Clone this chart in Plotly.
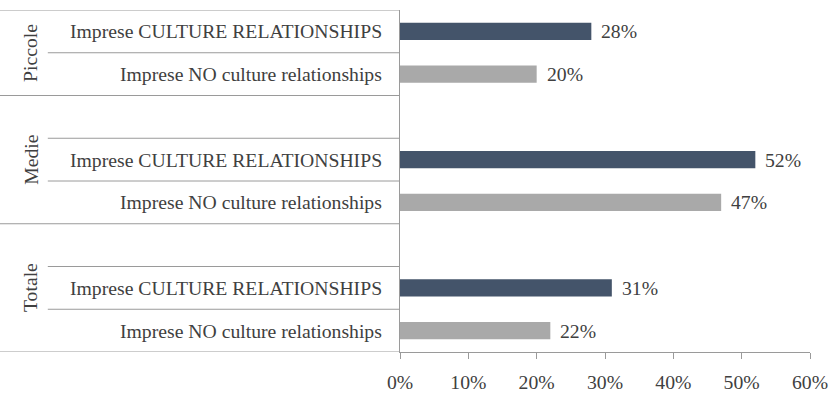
import plotly.graph_objects as go

# Data
groups = ["Piccole", "Medie", "Totale"]
row_labels = ["Imprese CULTURE RELATIONSHIPS", "Imprese NO culture relationships"]
culture_values = [28, 52, 31]
no_culture_values = [20, 47, 22]
x_ticks = [0, 10, 20, 30, 40, 50, 60]
x_tick_labels = ["0%", "10%", "20%", "30%", "40%", "50%", "60%"]

SERIF = "Liberation Serif"
FS = 19.7
TEXT_COLOR = "#404040"
LINE_COLOR = "#9a9a9a"
DARK = "#44546A"
LIGHT = "#A9A9A9"

# Category slots (top to bottom); groups after the first start with a blank slot
slots = []
slot_group = []
for gi, g in enumerate(groups):
    if gi > 0:
        slots.append(f"{g}|")
        slot_group.append(g)
    for lab in row_labels:
        slots.append(f"{g}|{lab}")
        slot_group.append(g)

culture_y = [f"{g}|{row_labels[0]}" for g in groups]
no_y = [f"{g}|{row_labels[1]}" for g in groups]

fig = go.Figure()
fig.add_trace(go.Bar(
    x=culture_values, y=culture_y, orientation="h",
    marker=dict(color=DARK, line=dict(width=0)), width=0.4,
    name=row_labels[0], showlegend=False, hoverinfo="skip",
))
fig.add_trace(go.Bar(
    x=no_culture_values, y=no_y, orientation="h",
    marker=dict(color=LIGHT, line=dict(width=0)), width=0.4,
    name=row_labels[1], showlegend=False, hoverinfo="skip",
))

annotations = []
# value labels next to bars
for vals, ys in ((culture_values, culture_y), (no_culture_values, no_y)):
    for v, y in zip(vals, ys):
        annotations.append(dict(
            x=v, y=y, xref="x", yref="y", text=f"{v}%", showarrow=False,
            xanchor="left", xshift=8, font=dict(family=SERIF, size=FS, color=TEXT_COLOR),
        ))

# row labels (right aligned against the axis)
for s in slots:
    g, lab = s.split("|")
    if lab:
        annotations.append(dict(
            x=-0.04, y=s, xref="paper", yref="y", text=lab, showarrow=False,
            xanchor="right", font=dict(family=SERIF, size=FS, color=TEXT_COLOR),
        ))

# group labels, rotated, centred on each group's slots
for g in groups:
    idx = [i for i, sg in enumerate(slot_group) if sg == g]
    centre = (idx[0] + idx[-1]) / 2
    annotations.append(dict(
        x=-0.902, y=centre, xref="paper", yref="y", text=g, showarrow=False,
        textangle=-90, xanchor="center", yanchor="middle",
        font=dict(family=SERIF, size=FS, color=TEXT_COLOR),
    ))

# separator lines of the category axis
shapes = []
full_x0, inner_x0 = -0.983, -0.859
bounds = [-0.5] + [i + 0.5 for i in range(len(slots))]
for b in bounds:
    lo = int(b - 0.5) if b > -0.5 else None
    hi = int(b + 0.5) if b + 0.5 < len(slots) else None
    full = lo is None or hi is None or slot_group[lo] != slot_group[hi]
    shapes.append(dict(
        type="line", xref="paper", yref="y",
        x0=full_x0 if full else inner_x0, x1=0, y0=b, y1=b,
        line=dict(color=LINE_COLOR, width=1),
    ))

fig.update_layout(
    width=829, height=393,
    margin=dict(l=400, r=19, t=10, b=41),
    plot_bgcolor="white", paper_bgcolor="white",
    barmode="overlay",
    font=dict(family=SERIF, size=FS, color=TEXT_COLOR),
    annotations=annotations, shapes=shapes,
    xaxis=dict(
        range=[0, 60], tickvals=x_ticks, ticktext=x_tick_labels,
        showgrid=False, zeroline=False, automargin=False,
        showline=True, linecolor=LINE_COLOR, linewidth=1,
        ticks="outside", ticklen=6, tickcolor=LINE_COLOR,
        ticklabelstandoff=6,
        tickfont=dict(family=SERIF, size=FS, color=TEXT_COLOR),
    ),
    yaxis=dict(
        type="category", categoryorder="array", categoryarray=slots,
        range=[len(slots) - 0.5, -0.5], automargin=False,
        showticklabels=False, showgrid=False, zeroline=False,
        showline=True, linecolor=LINE_COLOR, linewidth=1, ticks="",
    ),
)

fig.write_html("out.html")
